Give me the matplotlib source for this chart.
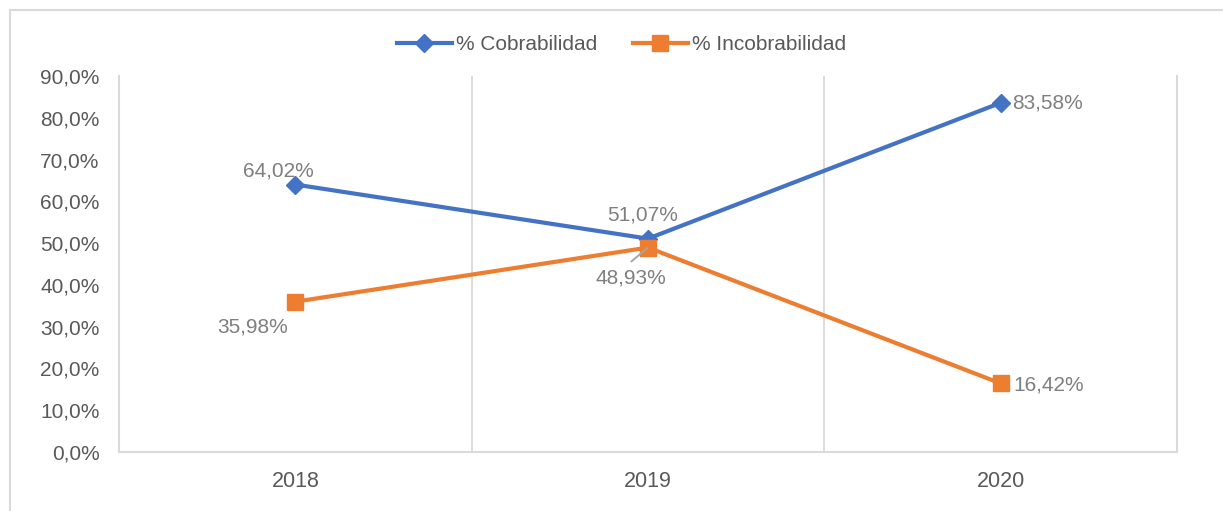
import matplotlib
matplotlib.use("Agg")
import matplotlib.pyplot as plt
from matplotlib.patches import Rectangle
from matplotlib.ticker import FuncFormatter

years = ["2018", "2019", "2020"]
cobrabilidad = [64.02, 51.07, 83.58]
incobrabilidad = [35.98, 48.93, 16.42]
series_names = ["% Cobrabilidad", "% Incobrabilidad"]

plt.rcParams['font.family'] = ['Liberation Sans', 'DejaVu Sans']

BLUE = "#4472C4"
ORANGE = "#ED7D31"
TICK = "#595959"
LABEL = "#7F7F7F"
GRID = "#D9D9D9"

fig = plt.figure(figsize=(12.23, 5.11), dpi=100)
fig.patches.append(Rectangle((10/1223, -0.05), 1.0, 0.05 + 1 - 10/511,
                             transform=fig.transFigure, fill=False,
                             edgecolor=GRID, linewidth=1.5))
ax = fig.add_axes([119/1223, 1-452/511, (1177-119)/1223, (452-76)/511])

x = list(range(len(years)))
ax.plot(x, cobrabilidad, color=BLUE, lw=3, marker='D', ms=9, label=series_names[0], zorder=3)
ax.plot(x, incobrabilidad, color=ORANGE, lw=3, marker='s', ms=12, label=series_names[1], zorder=3)

ax.set_xlim(-0.5, len(years) - 0.5)
ax.set_ylim(0, 90)
ax.set_yticks(range(0, 91, 10))
ax.yaxis.set_major_formatter(FuncFormatter(lambda v, p: f"{v:.1f}%".replace('.', ',')))
ax.set_xticks(x)
ax.set_xticklabels(years)
ax.tick_params(axis='y', length=0, pad=14, labelsize=15, labelcolor=TICK)
ax.tick_params(axis='x', length=0, pad=14, labelsize=15, labelcolor=TICK)
for lbl in ax.get_xticklabels():
    lbl.set_fontsize(15.5)

for xv in [0.5, 1.5]:
    ax.axvline(xv, color=GRID, lw=1.3, zorder=1)

for s in ['left', 'right', 'bottom']:
    ax.spines[s].set_color(GRID)
    ax.spines[s].set_linewidth(1.5)
ax.spines['top'].set_visible(False)

def fmt(v):
    return f"{v:.2f}%".replace('.', ',')

# data labels (offsets in points)
offs_c = [(-12, 10, 'center', 'center'), (-4, 17, 'center', 'center'), (8, 0, 'left', 'center')]
offs_i = [(-31, -18, 'center', 'center'), (-12, -22, 'center', 'center'), (9, -1, 'left', 'center')]
for i, v in enumerate(cobrabilidad):
    dx, dy, ha, va = offs_c[i]
    ax.annotate(fmt(v), (x[i], v), xytext=(dx, dy), textcoords='offset points',
                ha=ha, va=va, fontsize=15, color=LABEL, zorder=4)
for i, v in enumerate(incobrabilidad):
    dx, dy, ha, va = offs_i[i]
    ax.annotate(fmt(v), (x[i], v), xytext=(dx, dy), textcoords='offset points',
                ha=ha, va=va, fontsize=15, color=LABEL, zorder=4)
# leader line for 2019 incobrabilidad label
ax.annotate("", (x[1], incobrabilidad[1]), xytext=(-12, -10), textcoords='offset points',
            arrowprops=dict(arrowstyle='-', color="#A6A6A6", lw=1.4, shrinkA=0, shrinkB=0.5), zorder=5)

leg = fig.legend(loc='center', bbox_to_anchor=(0.508, 1-45/511), ncol=2, frameon=False,
                 fontsize=15, handlelength=2.65, handletextpad=0.2, columnspacing=1.7,
                 labelcolor=TICK)

fig.savefig("out.png", dpi=100)
